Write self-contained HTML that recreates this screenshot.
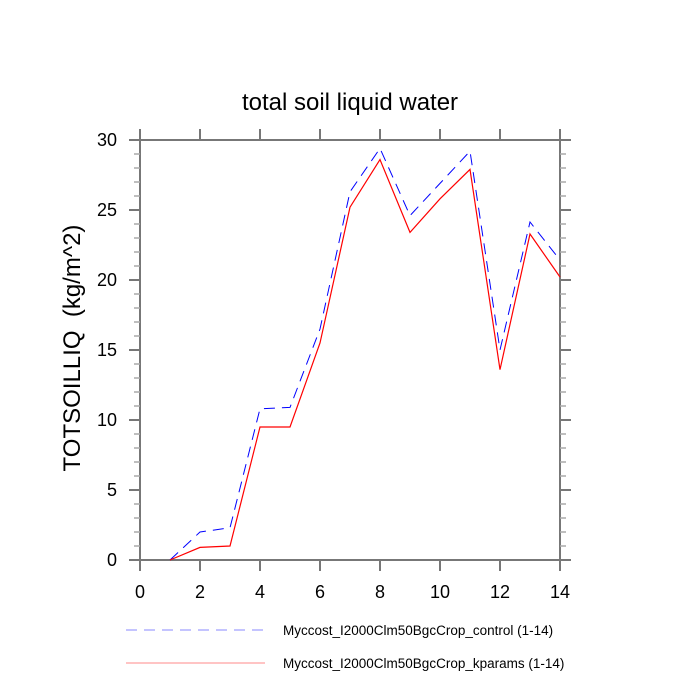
<!DOCTYPE html>
<html><head><style>body{margin:0;background:#fff}svg{display:block}</style></head><body>
<svg width="700" height="700" viewBox="0 0 700 700" font-family="Liberation Sans, sans-serif">
<g stroke="#777" stroke-width="2" fill="none">
<rect x="140" y="140" width="420" height="420"/>
<path d="M140,560v11M200,560v11M260,560v11M320,560v11M380,560v11M440,560v11M500,560v11M560,560v11
M140,140v-11M200,140v-11M260,140v-11M320,140v-11M380,140v-11M440,140v-11M500,140v-11M560,140v-11
M140,560h-11M140,490h-11M140,420h-11M140,350h-11M140,280h-11M140,210h-11M140,140h-11
M560,560h11M560,490h11M560,420h11M560,350h11M560,280h11M560,210h11M560,140h11"/>
</g>
<g stroke="#aaa" stroke-width="1.5">
<path id="mn" d="M134,546h6M134,532h6M134,518h6M134,504h6M134,476h6M134,462h6M134,448h6M134,434h6M134,406h6M134,392h6M134,378h6M134,364h6M134,336h6M134,322h6M134,308h6M134,294h6M134,266h6M134,252h6M134,238h6M134,224h6M134,196h6M134,182h6M134,168h6M134,154h6"/>
<use href="#mn" transform="translate(426,0)"/>
</g>
<polyline fill="none" stroke="#00f" stroke-width="1" stroke-dasharray="11,7" points="170,560 200,532 230,527.8 260,408.8 290,407.4 320,329 350,191.8 380,148.4 410,215.6 440,183.4 470,151.2 500,350 530,222 560,260"/>
<polyline fill="none" stroke="#f00" stroke-width="1.2" points="170,560 200,547.4 230,546 260,427 290,427 320,343 350,207.2 380,159.6 410,232.4 440,198.8 470,169.4 500,369.6 530,234 560,277"/>
<g font-size="18" fill="#000" text-anchor="middle">
<text x="140" y="598">0</text><text x="200" y="598">2</text><text x="260" y="598">4</text><text x="320" y="598">6</text><text x="380" y="598">8</text><text x="440" y="598">10</text><text x="500" y="598">12</text><text x="560" y="598">14</text>
</g>
<g font-size="18" fill="#000" text-anchor="end">
<text x="117" y="566">0</text><text x="117" y="496">5</text><text x="117" y="426">10</text><text x="117" y="356">15</text><text x="117" y="286">20</text><text x="117" y="216">25</text><text x="117" y="146">30</text>
</g>
<text x="350" y="110" font-size="24" text-anchor="middle">total soil liquid water</text>
<text transform="translate(80,348) rotate(-90)" font-size="24" text-anchor="middle" xml:space="preserve">TOTSOILLIQ  (kg/m^2)</text>
<line x1="126" y1="630" x2="265" y2="630" stroke="#88f" stroke-width="1" stroke-dasharray="11,7"/>
<line x1="126" y1="663" x2="265" y2="663" stroke="#f88" stroke-width="1"/>
<text x="283" y="635" font-size="13.5">Myccost_I2000Clm50BgcCrop_control (1-14)</text>
<text x="283" y="668" font-size="13.5">Myccost_I2000Clm50BgcCrop_kparams (1-14)</text>
</svg>
</body></html>
